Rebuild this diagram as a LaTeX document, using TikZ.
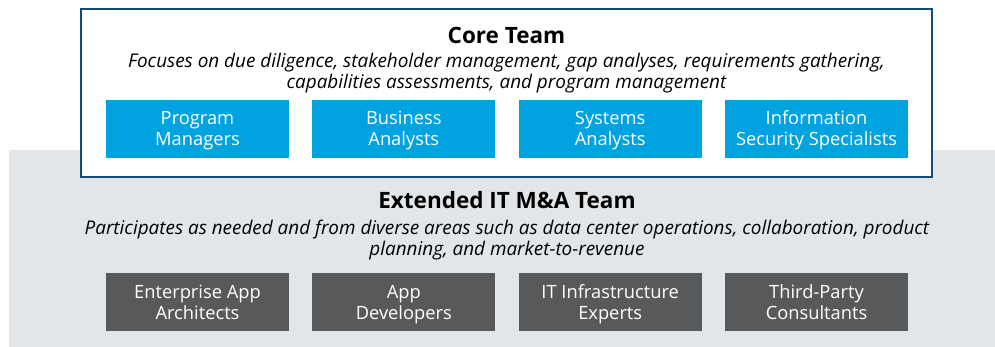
\documentclass[tikz,border=0pt]{standalone}
\usepackage{fontspec}
\setmainfont{Open Sans}
\definecolor{coreblue}{HTML}{00A3E0}
\definecolor{coreline}{HTML}{124B73}
\definecolor{extgray}{HTML}{E3E6E9}
\definecolor{extbox}{HTML}{58595B}
\newcommand{\tallstrut}{\rule{0pt}{19.3pt}}
\begin{document}
\begin{tikzpicture}[x=1pt,y=-1pt,
    rolebox/.style={minimum width=183pt,minimum height=58pt,inner sep=0pt,
        align=center,text=white,font=\fontsize{18.3}{21}\selectfont},
    corerole/.style={rolebox,fill=coreblue},
    extrole/.style={rolebox,fill=extbox},
    teamtitle/.style={font=\fontsize{22.5}{25}\selectfont\bfseries},
    teamnote/.style={align=center,font=\fontsize{18.9}{21}\selectfont\itshape}]
    \useasboundingbox (0,0) rectangle (995,347);
    % the extended team background
    \fill[extgray] (9,150) rectangle (995,347);
    % the core team box
    \draw[coreline,line width=2pt,fill=white] (81,9) rectangle (932,177);
    \draw (506.5,35) node[teamtitle] (core) {Core Team};
    \draw (506.5,73.5) node[teamnote] (core-note) {\strut Focuses on due diligence, stakeholder management, gap analyses, requirements gathering,\\\strut capabilities assessments, and program management};
    % the core roles
    \draw (197.5,129) node[corerole] (program) {\tallstrut Program\\\strut Managers};
    \draw (403.8,129) node[corerole] (business) {\tallstrut Business\\\strut Analysts};
    \draw (610.2,129) node[corerole] (systems) {\tallstrut Systems\\\strut Analysts};
    \draw (816.5,129) node[corerole] (security) {\tallstrut Information\\\strut Security Specialists};
    % the extended team label
    \draw (507,200) node[teamtitle] (extended) {Extended IT M\&A Team};
    \draw (507,241) node[teamnote] (extended-note) {\strut Participates as needed and from diverse areas such as data center operations, collaboration, product\\\strut planning, and market-to-revenue};
    % the extended roles
    \draw (197.5,302) node[extrole] (architects) {\tallstrut Enterprise App\\\strut Architects};
    \draw (403.8,302) node[extrole] (developers) {\tallstrut App\\\strut Developers};
    \draw (610.2,302) node[extrole] (infrastructure) {\tallstrut IT Infrastructure\\\strut Experts};
    \draw (816.5,302) node[extrole] (consultants) {\tallstrut Third-Party\\\strut Consultants};
\end{tikzpicture}
\end{document}
